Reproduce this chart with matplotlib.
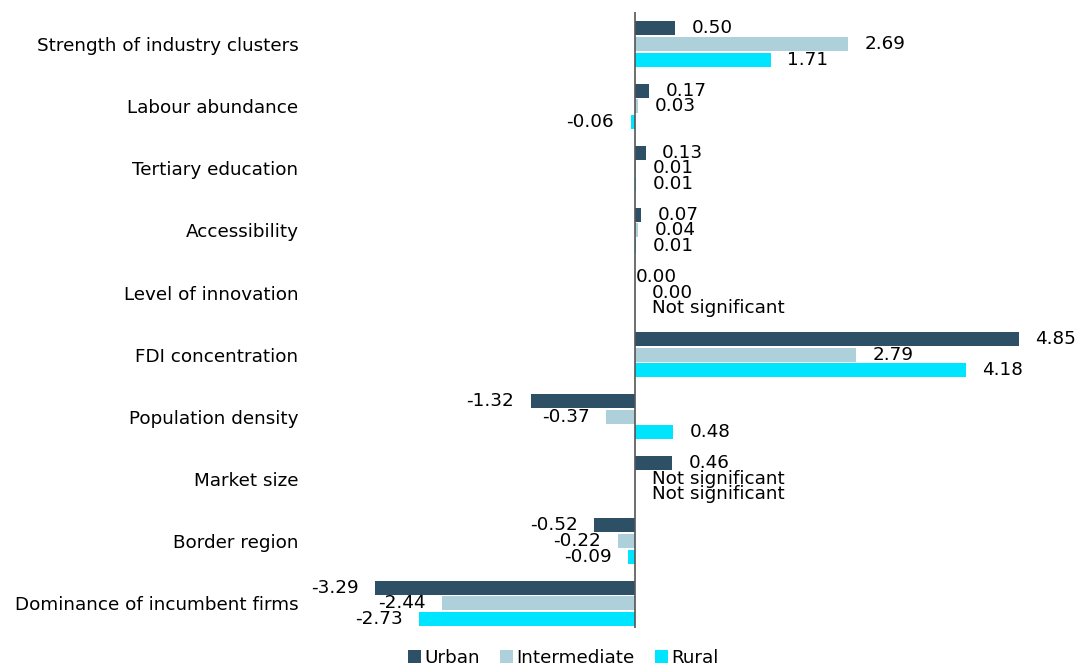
import matplotlib.pyplot as plt
import numpy as np

categories = ['Strength of industry clusters', 'Labour abundance', 'Tertiary education',
              'Accessibility', 'Level of innovation', 'FDI concentration',
              'Population density', 'Market size', 'Border region',
              'Dominance of incumbent firms']
# nan = not significant
urban = [0.50, 0.17, 0.13, 0.07, 0.00, 4.85, -1.32, 0.46, -0.52, -3.29]
intermediate = [2.69, 0.03, 0.01, 0.04, 0.00, 2.79, -0.37, np.nan, -0.22, -2.44]
rural = [1.71, -0.06, 0.01, 0.01, np.nan, 4.18, 0.48, np.nan, -0.09, -2.73]
series = ['Urban', 'Intermediate', 'Rural']
colors = ['#2E5066', '#AED0DA', '#00E5FF']

plt.rcParams['font.family'] = 'DejaVu Sans'
fs = 13.2

fig = plt.figure(figsize=(10.79, 6.66), dpi=100)
ax = fig.add_axes([311 / 1079, 1 - 628 / 666, 1 - 311 / 1079, 616 / 666])

y = np.arange(len(categories))
offsets = [-0.25, 0, 0.25]
gap = 0.21  # label distance from bar end, in data units

for vals, name, col, off in zip([urban, intermediate, rural], series, colors, offsets):
    v = np.array(vals, dtype=float)
    ax.barh(y + off, np.nan_to_num(v), height=0.225, color=col, label=name)
    for yi, val in zip(y + off, v):
        if np.isnan(val):
            ax.text(gap, yi, 'Not significant', ha='left', va='center', fontsize=fs)
        elif val < 0:
            ax.text(val - gap, yi, f'{val:.2f}', ha='right', va='center', fontsize=fs)
        else:
            x = val + gap
            if val == 0 and name == 'Urban':
                x = 0.01
            ax.text(x, yi, f'{val:.2f}', ha='left', va='center', fontsize=fs)

ax.axvline(0, color='#555555', lw=1.2)
ax.set_xlim(-4.10, 5.61)
ax.set_ylim(9.40, -0.515)
ax.set_yticks(y)
ax.set_yticklabels(categories, fontsize=fs)
ax.tick_params(axis='y', length=0, pad=9)
ax.set_xticks([])
for s in ax.spines.values():
    s.set_visible(False)

fig.legend(loc='lower center', bbox_to_anchor=(0.522, -0.026), ncol=3, frameon=False,
           fontsize=fs, handlelength=0.7, handleheight=0.7, handletextpad=0.2,
           columnspacing=1.1)

plt.savefig('out.png', dpi=100)
